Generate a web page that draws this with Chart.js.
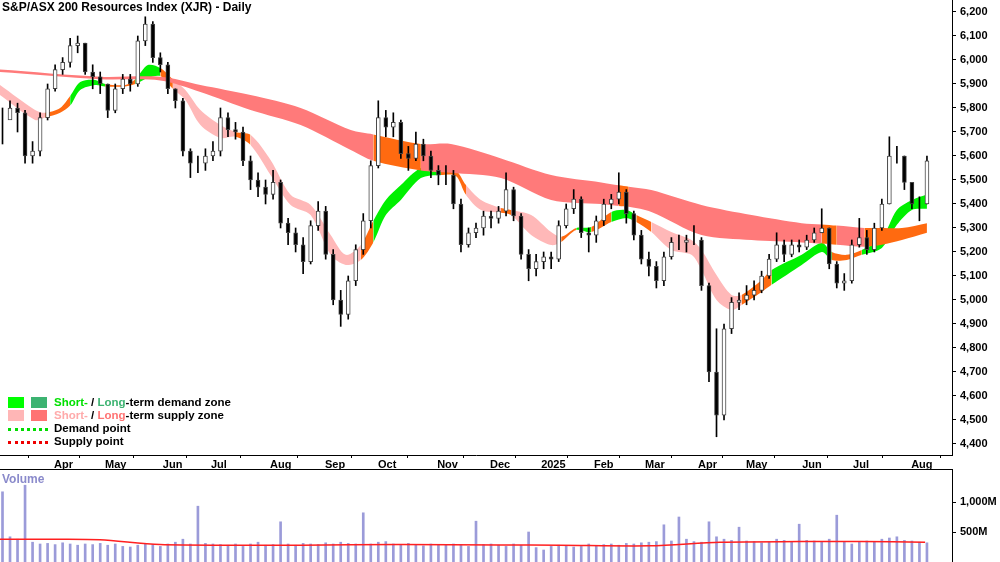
<!DOCTYPE html>
<html>
<head>
<meta charset="utf-8">
<script src="https://cdn.jsdelivr.net/npm/chart.js@4/dist/chart.umd.min.js"></script>
<style>
  body { margin: 0; background: #fff; font-family: "Liberation Sans", Arial, sans-serif; }
  #wrap { position: relative; width: 1000px; height: 562px; overflow: hidden; }
  canvas { position: absolute; left: 0; }
  #title { position: absolute; left: 2px; top: 0px; font-size: 12px; font-weight: bold; }
  #volLabel { position: absolute; left: 2px; top: 472px; font-size: 12px; font-weight: bold; color: #8a8acb; }
  #legend { position: absolute; left: 8px; top: 396px; font-size: 11.5px; font-weight: bold; line-height: 13px; }
  #legend .row { height: 13px; position: relative; }
  #legend .box { position: absolute; top: 1px; width: 16px; height: 11px; }
  #legend .dot { position: absolute; top: 6px; width: 40px; height: 0; border-top: 3px dotted; }
  #legend .txt { position: absolute; left: 46px; white-space: nowrap; }
</style>
</head>
<body>
<div id="wrap">
  <canvas id="priceChart" width="1000" height="469" style="top:0"></canvas>
  <canvas id="volChart" width="1000" height="93" style="top:469px"></canvas>
  <div id="title">S&amp;P/ASX 200 Resources Index (XJR) - Daily</div>
  <div id="volLabel">Volume</div>
  <div id="legend">
    <div class="row"><div class="box" style="left:0;background:#00ff00"></div><div class="box" style="left:23px;background:#3cb371"></div>
      <div class="txt"><span style="color:#00e000">Short-</span> / <span style="color:#3cb371">Long</span>-term demand zone</div></div>
    <div class="row"><div class="box" style="left:0;background:#ffb6b6"></div><div class="box" style="left:23px;background:#ff7373"></div>
      <div class="txt"><span style="color:#ffaaaa">Short-</span> / <span style="color:#ff7373">Long</span>-term supply zone</div></div>
    <div class="row"><div class="dot" style="left:0;border-color:#00dd00"></div><div class="txt">Demand point</div></div>
    <div class="row"><div class="dot" style="left:0;border-color:#ee0000"></div><div class="txt">Supply point</div></div>
  </div>
</div>
<script>
// candles every 3 trading days (x = trading day index)
const closes = [5750,5800,5780,5600,5620,5760,5880,5960,5990,6060,6070,5950,5930,5900,5790,5880,5920,5900,6080,6150,
  6010,5980,5880,5830,5620,5570,5570,5600,5620,5760,5710,5700,5580,5500,5470,5440,5490,5320,5280,5230,
  5160,5310,5370,5190,5000,4940,5080,5210,5330,5560,5760,5720,5740,5610,5590,5650,5600,5540,5520,5520,
  5400,5230,5280,5300,5350,5340,5370,5460,5350,5190,5130,5160,5180,5170,5310,5380,5420,5280,5270,5330,
  5400,5420,5450,5360,5270,5170,5140,5080,5180,5240,5240,5250,5250,5060,4700,4520,4880,4990,5000,5020,
  5040,5100,5170,5230,5190,5230,5220,5250,5280,5300,5150,5070,5080,5230,5260,5210,5300,5400,5600,5600,
  5490,5400,5400,5580];
const highs = [5800,5830,5820,5790,5660,5780,5900,5980,6010,6090,6100,6070,5980,5950,5900,5900,5940,5940,6100,6180,
  6160,6030,5990,5880,5840,5630,5600,5630,5660,5800,5780,5740,5720,5600,5530,5500,5540,5500,5340,5300,
  5260,5330,5410,5390,5210,5040,5100,5230,5360,5580,5830,5790,5780,5750,5640,5700,5670,5620,5560,5560,
  5540,5420,5300,5320,5370,5370,5390,5530,5470,5360,5210,5190,5200,5200,5330,5400,5460,5430,5300,5350,
  5420,5440,5530,5460,5370,5290,5200,5160,5200,5260,5270,5270,5310,5260,5070,4880,4900,5010,5030,5060,
  5080,5120,5190,5280,5250,5250,5250,5270,5300,5380,5300,5160,5110,5250,5340,5290,5320,5420,5680,5640,
  5600,5490,5430,5600];
const lows = [5650,5760,5700,5570,5570,5600,5750,5870,5940,5970,6030,5940,5880,5860,5760,5780,5860,5870,5890,6060,
  5990,5950,5860,5800,5600,5510,5530,5540,5580,5600,5680,5670,5560,5460,5430,5400,5420,5300,5230,5200,
  5110,5150,5290,5170,4980,4890,4920,5060,5190,5300,5550,5680,5680,5590,5540,5580,5580,5510,5480,5480,
  5380,5200,5220,5260,5270,5300,5320,5350,5330,5170,5080,5100,5130,5130,5160,5300,5360,5260,5200,5240,
  5310,5380,5400,5320,5250,5150,5100,5050,5060,5170,5210,5200,5230,5040,4660,4430,4500,4860,4960,4980,
  5000,5030,5090,5160,5160,5180,5200,5210,5240,5280,5130,5050,5040,5070,5220,5190,5200,5290,5400,5570,
  5460,5380,5330,5400];
const volumes = [1170,420,380,1280,330,300,310,290,320,300,280,300,290,310,280,300,260,250,280,300,
  290,260,300,330,380,300,930,310,300,290,280,300,260,300,330,280,290,670,300,280,
  310,300,290,320,300,330,310,300,820,300,330,340,300,290,310,280,270,300,290,280,
  300,290,260,680,290,300,280,260,300,280,500,240,200,260,280,270,250,260,300,270,
  290,300,280,310,300,320,330,340,620,350,750,380,340,330,670,420,380,360,580,350,
  340,320,330,380,360,340,630,360,350,340,380,780,330,300,340,350,330,380,400,420,
  360,350,330,320];
const candleDays = closes.map((c, i) => 1 + 3 * i);

// moving-average zones: [day, upper, lower, zone]
const shortDays  = [0,14,18,24,28,32,38,42,50,54,59,64,69,74,80,88,94,100,108,116,124,132,138,144,149,154,160,168,176,182,
  186,192,200,204,212,220,224,230,236,244,250,254,260,268,276,280,286,292,296,304,308,320,328,332,338,344,352,358,364,370];
const shortUpper = [5896,5792,5780,5800,5850,5908,5917,5900,5896,5920,5979,5967,5920,5875,5792,5729,5700,5688,5583,5438,
  5396,5271,5188,5229,5330,5417,5479,5550,5550,5540,5479,5417,5383,5375,5354,5283,5263,5300,5304,5367,
  5375,5354,5325,5283,5250,5208,5104,5021,5021,5083,5125,5188,5238,5200,5188,5208,5258,5375,5417,5440];
const shortLower = [5854,5750,5760,5780,5810,5875,5896,5890,5890,5900,5925,5933,5880,5833,5729,5675,5680,5646,5521,5396,
  5354,5188,5146,5167,5240,5354,5417,5508,5521,5517,5438,5375,5363,5354,5271,5229,5242,5292,5283,5325,
  5342,5325,5283,5208,5188,5125,5000,4958,4979,5033,5063,5146,5200,5167,5167,5188,5217,5313,5375,5380];
const shortZone  = ['s','s','o','o','g','g','g','o','o','g','g','o','s','s','s','s','o','s','s','s',
  's','s','s','o','g','g','g','g','o','o','s','s','o','s','s','s','o','g','o','g',
  'g','o','s','s','s','s','s','s','o','o','g','g','g','o','o','g','g','g','g','g'];
const longDays  = [0,40,64,80,100,120,140,149,168,180,200,220,240,247,251,260,280,300,320,328,334,345,352,360,370];
const longUpper = [5960,5930,5930,5896,5854,5800,5708,5690,5650,5650,5590,5521,5490,5478,5472,5458,5396,5354,5320,5315,5310,5300,5300,5300,5320];
const longLower = [5950,5920,5915,5867,5792,5729,5625,5580,5540,5530,5508,5417,5400,5392,5388,5367,5271,5250,5240,5235,5230,5222,5230,5250,5280];
const longZone  = ['r','r','r','r','r','r','r','o','r','r','r','r','r','o','r','r','r','r','r','o','r','o','o','o','o'];

const volMaDays = [0,60,100,160,250,300,400,500,560,650,720,800,860,925].map(p => p / 2.505);
const volMa = [380,380,370,290,280,280,290,285,280,270,330,340,340,330];

const monthDays = [21.6,41.9,65,84.2,107.8,129.7,150.9,174.5,195.6,216,237.1,257.5,278.6,297.8,320.2,340.5,363.7];
const monthLabels = ['Apr','May','Jun','Jul','Aug','Sep','Oct','Nov','Dec','2025','Feb','Mar','Apr','May','Jun','Jul','Aug'];
const priceTicks = [4400,4500,4600,4700,4800,4900,5000,5100,5200,5300,5400,5500,5600,5700,5800,5900,6000,6100,6200];

const zoneColors = { s: '#ffb8b8', o: '#ff6a10', g: '#00f000', r: '#ff7a7a' };
const FONT = { family: 'Liberation Sans', size: 11, weight: 'bold' };
const X_MAX = 380;

function pts(days, vals) { return days.map((d, i) => ({ x: d, y: vals[i] })); }
function band(days, up, lo, zone, label) {
  return [
    { type: 'line', label: label + ' up', data: pts(days, up), borderWidth: 0, pointRadius: 0, tension: 0.3,
      fill: '+1', backgroundColor: zoneColors[zone[0]], order: 10,
      segment: { backgroundColor: ctx => zoneColors[zone[ctx.p0DataIndex]] } },
    { type: 'line', label: label + ' lo', data: pts(days, lo), borderWidth: 0, pointRadius: 0, tension: 0.3,
      fill: false, order: 10 }
  ];
}
// no extra top/bottom room for the right-hand labels
function fitY(s) { s.width = 48; s.paddingTop = 0; s.paddingBottom = 0; }

const opens = closes.map((c, i) => i === 0 ? c : closes[i - 1]);
const wickData = candleDays.map((d, i) => ({ x: d, y: [lows[i], highs[i]] }));
const bodyData = candleDays.map((d, i) => ({ x: d, y: [opens[i], closes[i]] }));
const bodyColors = closes.map((c, i) => c >= opens[i] ? '#ffffff' : '#000000');

new Chart(document.getElementById('priceChart'), {
  data: {
    datasets: [
      ...band(longDays, longUpper, longLower, longZone, 'long'),
      ...band(shortDays, shortUpper, shortLower, shortZone, 'short'),
      { type: 'bar', data: wickData, backgroundColor: '#000', barThickness: 1, grouped: false, order: 2 },
      { type: 'bar', data: bodyData, backgroundColor: bodyColors, borderColor: '#444', borderWidth: 1,
        borderSkipped: false, barThickness: 4, grouped: false, order: 1 }
    ]
  },
  options: {
    responsive: false, devicePixelRatio: 1, animation: false,
    layout: { padding: 0 },
    plugins: { legend: { display: false }, tooltip: { enabled: false } },
    scales: {
      x: {
        type: 'linear', min: 0, max: X_MAX, offset: false,
        afterBuildTicks: s => { s.ticks = monthDays.map(v => ({ value: v })); },
        afterFit: s => { s.height = 14; s.paddingLeft = 0; s.paddingRight = 0; },
        ticks: { callback: (v, i) => monthLabels[i], align: 'start', font: FONT, color: '#000', padding: 0, maxRotation: 0, autoSkip: false },
        grid: { drawOnChartArea: false, tickLength: 3, color: '#000' },
        border: { color: '#000', width: 1 }
      },
      y: {
        position: 'right', min: 4354, max: 6250,
        afterBuildTicks: s => { s.ticks = priceTicks.map(v => ({ value: v })); },
        afterFit: fitY,
        ticks: { callback: v => v.toLocaleString('en-US'), font: FONT, color: '#000', padding: 4 },
        grid: { drawOnChartArea: false, tickLength: 4, color: '#000' },
        border: { color: '#000', width: 1 }
      }
    }
  }
});

const frame = {
  id: 'frame',
  afterDraw(chart) {
    const { ctx, chartArea: a } = chart;
    ctx.save();
    ctx.strokeStyle = '#000';
    ctx.lineWidth = 1;
    ctx.beginPath();
    ctx.moveTo(0, a.top + 0.5);
    ctx.lineTo(a.right, a.top + 0.5);
    ctx.stroke();
    ctx.restore();
  }
};

new Chart(document.getElementById('volChart'), {
  data: {
    datasets: [
      { type: 'line', data: pts(volMaDays, volMa), borderColor: '#ff2020', borderWidth: 1.5, pointRadius: 0, tension: 0.3, order: 0 },
      { type: 'bar', data: candleDays.map((d, i) => ({ x: d, y: volumes[i] })), backgroundColor: '#9b9bd9', barThickness: 2, order: 1 }
    ]
  },
  options: {
    responsive: false, devicePixelRatio: 1, animation: false,
    layout: { padding: 0 },
    plugins: { legend: { display: false }, tooltip: { enabled: false } },
    scales: {
      x: { type: 'linear', min: 0, max: X_MAX, offset: false, display: false },
      y: {
        position: 'right', min: 0, max: 1550,
        afterBuildTicks: s => { s.ticks = [500, 1000].map(v => ({ value: v })); },
        afterFit: fitY,
        ticks: { callback: v => v.toLocaleString('en-US') + 'M', font: FONT, color: '#000', padding: 4 },
        grid: { drawOnChartArea: false, tickLength: 4, color: '#000' },
        border: { color: '#000', width: 1 }
      }
    }
  },
  plugins: [frame]
});
</script>
</body>
</html>
